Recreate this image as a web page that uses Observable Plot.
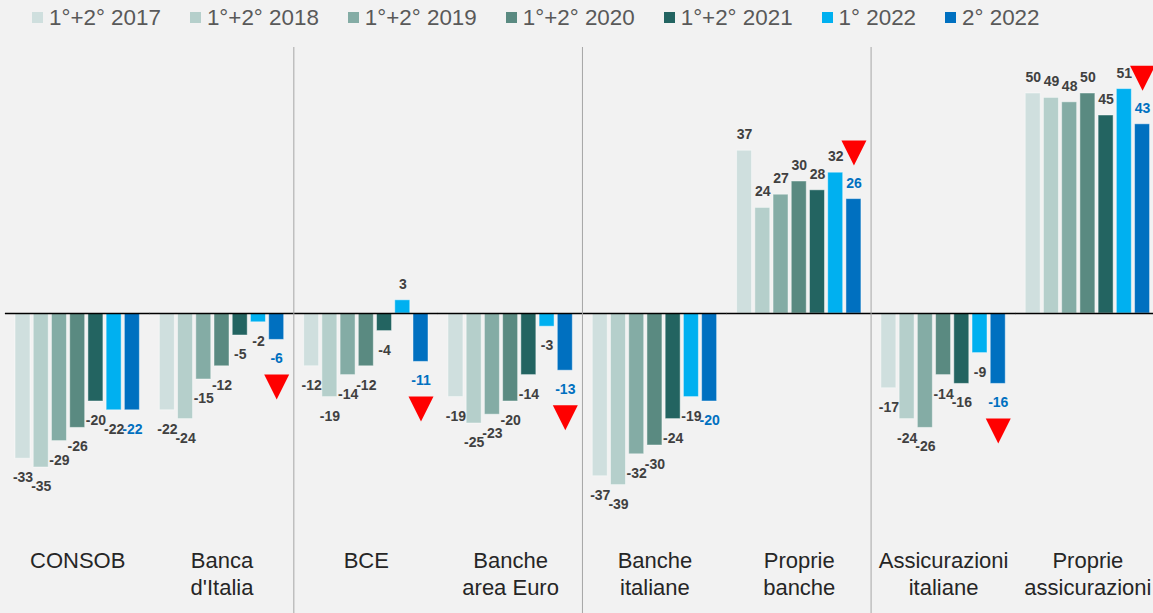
<!DOCTYPE html>
<html><head><meta charset="utf-8">
<script src="https://cdn.jsdelivr.net/npm/d3@7"></script>
<script src="https://cdn.jsdelivr.net/npm/@observablehq/plot@0.6"></script>
<style>
html,body{margin:0;padding:0;background:#f2f2f2;overflow:hidden;width:1153px;height:613px}
#legend{height:35px;display:flex;align-items:center;padding-left:32px;font:22.4px "Liberation Sans",Arial,sans-serif;color:#595959;white-space:nowrap}
.item{display:flex;align-items:center;margin-right:29px}
.sw{width:11px;height:11px;margin-right:6px;flex:none}
#chart{width:1153px;overflow:hidden}
#chart svg{display:block;max-width:none !important}
</style></head><body>
<div id="legend"></div><div id="chart"></div>
<script>
const series = ["1°+2° 2017","1°+2° 2018","1°+2° 2019","1°+2° 2020","1°+2° 2021","1° 2022","2° 2022"];
const colors = ["#cfdfde","#b5cfcb","#84aca5","#5a8a81","#236461","#00b0f0","#0070c0"];
const categories = ["CONSOB","Banca d'Italia","BCE","Banche area Euro","Banche italiane","Proprie banche","Assicurazioni italiane","Proprie assicurazioni"];
const categoryLabels = ["CONSOB","Banca\nd'Italia","BCE","Banche\narea Euro","Banche\nitaliane","Proprie\nbanche","Assicurazioni\nitaliane","Proprie\nassicurazioni"];
const v2017 = [-33,-22,-12,-19,-37,37,-17,50];
const v2018 = [-35,-24,-19,-25,-39,24,-24,49];
const v2019 = [-29,-15,-14,-23,-32,27,-26,48];
const v2020 = [-26,-12,-12,-20,-30,30,-14,50];
const v2021 = [-20,-5,-4,-14,-24,28,-16,45];
const v2022a = [-22,-2,3,-3,-19,32,-9,51];
const v2022b = [-22,-6,-11,-13,-20,26,-16,43];
const dropCategories = ["Banca d'Italia","BCE","Banche area Euro","Proprie banche","Assicurazioni italiane","Proprie assicurazioni"];
const separatorCategories = ["BCE","Banche italiane","Assicurazioni italiane"];

const values = [v2017,v2018,v2019,v2020,v2021,v2022a,v2022b];
const data = [];
categories.forEach((c,i)=>series.forEach((s,j)=>data.push({cat:c, series:s, value:values[j][i]})));
const last = series[series.length-1];
const tri = dropCategories.map(c=>data.find(d=>d.cat===c && d.series===last));

// legend
const lg = document.getElementById("legend");
series.forEach((s,i)=>{
  const it = document.createElement("div"); it.className="item";
  const sw = document.createElement("div"); sw.className="sw"; sw.style.background=colors[i];
  const tx = document.createElement("span"); tx.textContent=s;
  it.appendChild(sw); it.appendChild(tx); lg.appendChild(it);
});

const triSymbol = {draw(ctx,size){const w=Math.sqrt(size);ctx.moveTo(-w/2,-w/2);ctx.lineTo(w/2,-w/2);ctx.lineTo(0,w/2);ctx.closePath();}};
const font = "Liberation Sans, Arial, sans-serif";
const textOpts = {fx:"cat", x:"series", y:"value", text:d=>String(d.value), fontSize:14, fontWeight:"bold", fontFamily:font};

const plot = Plot.plot({
  width:1160, height:578, marginLeft:4.57, marginRight:0, marginTop:12, marginBottom:0,
  style:{background:"transparent", fontFamily:font, maxWidth:"none", height:"578px"},
  fx:{domain:categories, paddingInner:0.0936, paddingOuter:0.05, round:false, axis:null, label:null},
  x:{domain:series, padding:0.177, round:false, axis:null},
  y:{domain:[-68.1818,60.4545], axis:null},
  color:{domain:series, range:colors},
  marks:[
    Plot.barY(data,{fx:"cat", x:"series", y:"value", fill:"series", stroke:"white", strokeOpacity:0.45, strokeWidth:1}),
    Plot.ruleY(categories,{fx:d=>d, y:()=>0, stroke:"#000", strokeWidth:1.5, insetLeft:-6.9, insetRight:-6.9}),
    Plot.ruleX(separatorCategories,{fx:d=>d, x:()=>series[0], dx:-17.8, stroke:"#a6a6a6", strokeWidth:1}),
    Plot.text(data.filter(d=>d.series!==last && d.value<0),{...textOpts, dy:19, fill:"#404040"}),
    Plot.text(data.filter(d=>d.series!==last && d.value>=0),{...textOpts, dy:-16, fill:"#404040"}),
    Plot.text(data.filter(d=>d.series===last && d.value<0),{...textOpts, dy:19, fill:"#0070c0"}),
    Plot.text(data.filter(d=>d.series===last && d.value>=0),{...textOpts, dy:-16, fill:"#0070c0"}),
    Plot.dot(tri.filter(d=>d.value<0),{fx:"cat", x:"series", y:"value", dy:47, symbol:triSymbol, r:14.1, fill:"#ff0000", stroke:"none"}),
    Plot.dot(tri.filter(d=>d.value>=0),{fx:"cat", x:"series", y:"value", dy:-46, symbol:triSymbol, r:14.1, fill:"#ff0000", stroke:"none"}),
    Plot.text(categories,{fx:d=>d, text:d=>categoryLabels[categories.indexOf(d)], frameAnchor:"top", lineAnchor:"top", dy:501, fontSize:22, lineHeight:1.227, fill:"#262626", fontFamily:font})
  ]
});
document.getElementById("chart").appendChild(plot);
</script>
</body></html>
